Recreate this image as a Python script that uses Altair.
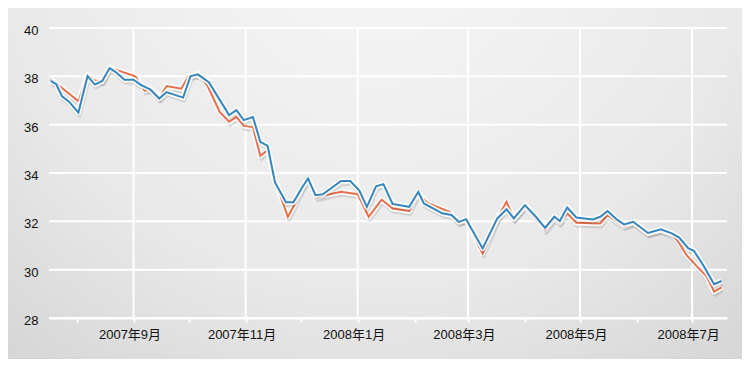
import altair as alt
import pandas as pd

# ---- data ----
blue_dates = [
    "2007/07/18", "2007/07/21", "2007/07/24", "2007/07/28", "2007/08/02", "2007/08/07",
    "2007/08/11", "2007/08/15", "2007/08/19", "2007/08/23", "2007/08/27", "2007/09/01",
    "2007/09/05", "2007/09/10", "2007/09/15", "2007/09/19", "2007/09/28", "2007/10/02",
    "2007/10/06", "2007/10/12", "2007/10/17", "2007/10/23", "2007/10/27", "2007/10/31",
    "2007/11/05", "2007/11/09", "2007/11/13", "2007/11/17", "2007/11/23", "2007/11/27",
    "2007/12/02", "2007/12/05", "2007/12/09", "2007/12/13", "2007/12/23", "2007/12/28",
    "2008/01/02", "2008/01/06", "2008/01/11", "2008/01/15", "2008/01/20", "2008/01/29",
    "2008/02/03", "2008/02/06", "2008/02/16", "2008/02/21", "2008/02/25", "2008/02/29",
    "2008/03/09", "2008/03/17", "2008/03/22", "2008/03/26", "2008/04/01", "2008/04/07",
    "2008/04/12", "2008/04/17", "2008/04/20", "2008/04/24", "2008/04/29", "2008/05/08",
    "2008/05/12", "2008/05/16", "2008/05/21", "2008/05/25", "2008/05/30", "2008/06/07",
    "2008/06/14", "2008/06/20", "2008/06/24", "2008/06/29", "2008/07/02", "2008/07/07",
    "2008/07/13", "2008/07/17",
]
blue_values = [
    37.81, 37.67, 37.18, 36.94, 36.50, 38.01,
    37.66, 37.81, 38.34, 38.14, 37.86, 37.86,
    37.65, 37.46, 37.08, 37.35, 37.12, 38.00,
    38.08, 37.76, 37.14, 36.40, 36.60, 36.19,
    36.32, 35.29, 35.12, 33.61, 32.79, 32.79,
    33.43, 33.77, 33.08, 33.12, 33.67, 33.67,
    33.26, 32.60, 33.45, 33.54, 32.72, 32.60,
    33.22, 32.74, 32.33, 32.26, 31.98, 32.09,
    30.88, 32.12, 32.50, 32.12, 32.67, 32.19,
    31.73, 32.19, 32.01, 32.57, 32.16, 32.08,
    32.19, 32.43, 32.08, 31.87, 31.98, 31.52,
    31.67, 31.50, 31.33, 30.88, 30.78, 30.19,
    29.40, 29.53,
]

orange_dates = [
    "2007/07/18", "2007/07/21", "2007/08/02", "2007/08/07", "2007/08/11", "2007/08/15",
    "2007/08/19", "2007/09/02", "2007/09/07", "2007/09/11", "2007/09/15", "2007/09/19",
    "2007/09/27", "2007/10/01", "2007/10/06", "2007/10/11", "2007/10/18", "2007/10/23",
    "2007/10/27", "2007/10/31", "2007/11/05", "2007/11/09", "2007/11/13", "2007/11/17",
    "2007/11/24", "2007/11/27", "2007/12/02", "2007/12/05", "2007/12/10", "2007/12/14",
    "2007/12/23", "2008/01/01", "2008/01/07", "2008/01/14", "2008/01/20", "2008/01/29",
    "2008/02/03", "2008/02/08", "2008/02/20", "2008/02/25", "2008/02/29", "2008/03/09",
    "2008/03/17", "2008/03/22", "2008/03/26", "2008/04/01", "2008/04/12", "2008/04/17",
    "2008/04/20", "2008/04/24", "2008/04/29", "2008/05/12", "2008/05/16", "2008/05/21",
    "2008/05/25", "2008/05/30", "2008/06/07", "2008/06/14", "2008/06/20", "2008/06/23",
    "2008/06/28", "2008/07/03", "2008/07/09", "2008/07/13", "2008/07/17",
]
orange_values = [
    37.85, 37.71, 36.97, 38.05, 37.83, 37.81,
    38.36, 38.00, 37.42, 37.45, 37.12, 37.60,
    37.49, 38.01, 38.11, 37.65, 36.52, 36.12,
    36.32, 35.95, 35.90, 34.71, 34.94, 33.70,
    32.19, 32.60, 33.40, 33.77, 32.99, 33.08,
    33.22, 33.12, 32.19, 32.90, 32.53, 32.43,
    33.18, 32.76, 32.39, 31.98, 32.05, 30.67,
    32.12, 32.81, 32.12, 32.60, 31.64, 32.12,
    31.95, 32.33, 31.94, 31.91, 32.26, 32.00,
    31.80, 31.95, 31.50, 31.64, 31.45, 31.22,
    30.60, 30.19, 29.71, 29.09, 29.27,
]

series_names = ["系列1", "系列2"]
series_colors = ["#E86F4B", "#3586BF"]
y_ticks = [28, 30, 32, 34, 36, 38, 40]
month_ticks = ["2007/08/01", "2007/09/01", "2007/10/01", "2007/11/01", "2007/12/01",
               "2008/01/01", "2008/02/01", "2008/03/01", "2008/04/01", "2008/05/01",
               "2008/06/01", "2008/07/01"]
grid_months = ["2007/09/01", "2007/11/01", "2008/01/01", "2008/03/01", "2008/05/01", "2008/07/01"]

W, H = 678, 290
FONT = "Liberation Sans, Noto Sans CJK JP"

orange_df = pd.DataFrame({"date": orange_dates, "value": orange_values, "series": series_names[0]})
blue_df = pd.DataFrame({"date": blue_dates, "value": blue_values, "series": series_names[1]})


def to_dt(s):
    y, m, d = (int(p) for p in s.split("/"))
    return alt.DateTime(year=y, month=m, date=d)


x_scale = alt.Scale(domain=[alt.DateTime(year=2007, month=7, date=17),
                            alt.DateTime(year=2008, month=7, date=20)], nice=False)
y_scale = alt.Scale(domain=[28, 40], nice=False, zero=False)

x_axis = alt.Axis(
    title=None,
    values=[to_dt(s) for s in month_ticks],
    labelExpr="month(datum.value) % 2 == 0 ? timeFormat(datum.value, '%Y年%-m月') : ''",
    grid=False, zindex=1,
    domain=True, domainColor="#ffffff", domainWidth=2,
    ticks=True, tickColor="#ffffff", tickSize=4, tickWidth=2,
    labelPadding=6, labelFontSize=13, labelColor="#111111", labelFont=FONT,
    labelOffset=-4,
)
y_axis = alt.Axis(
    title=None, values=y_ticks, grid=False, zindex=1,
    domain=False, ticks=False, labelPadding=11, labelFontSize=13,
    labelColor="#111111", labelFont=FONT, labelOffset=2.5,
)

bg = alt.Chart(pd.DataFrame({"k": [0]})).mark_rect(
    fill={
        "gradient": "radial", "x1": 0.5, "y1": 0.12, "r1": 0,
        "x2": 0.5, "y2": 0.12, "r2": 0.95,
        "stops": [
            {"offset": 0, "color": "#f8f8f8"},
            {"offset": 0.55, "color": "#e9e9e9"},
            {"offset": 1, "color": "#cbcbcb"},
        ],
    }
).encode(x=alt.value(-41), x2=alt.value(W + 15), y=alt.value(-20), y2=alt.value(H + 41))

hgrid = alt.Chart(pd.DataFrame({"v": y_ticks})).mark_rule(color="#ffffff", strokeWidth=2).encode(
    y=alt.Y("v:Q", scale=y_scale, axis=y_axis)
)
vgrid = alt.Chart(pd.DataFrame({"d": grid_months})).mark_rule(color="#ffffff", strokeWidth=2).encode(
    x=alt.X("d:T", scale=x_scale, axis=x_axis)
)


def series_layers(df, color):
    base = alt.Chart(df).encode(
        x=alt.X("date:T", scale=x_scale, axis=x_axis),
        y=alt.Y("value:Q", scale=y_scale, axis=y_axis),
    )
    shadow = base.mark_line(color="#000000", opacity=0.11, strokeWidth=4, yOffset=3, xOffset=1,
                            strokeJoin="round")
    halo = base.mark_line(color="#ffffff", opacity=0.9, strokeWidth=5.5, strokeJoin="round")
    line = base.mark_line(color=color, strokeWidth=2, strokeJoin="miter")
    return [shadow, halo, line]


layers = [bg, hgrid, vgrid] + series_layers(orange_df, series_colors[0]) + \
    series_layers(blue_df, series_colors[1])

chart = alt.layer(*layers).properties(
    width=W, height=H,
    autosize=alt.AutoSizeParams(type="none"),
    padding={"left": 41, "top": 20, "right": 15, "bottom": 41},
    background="#ececec",
).configure_view(stroke=None)

chart.save("out.html", embed_options={"renderer": "svg", "actions": False})
